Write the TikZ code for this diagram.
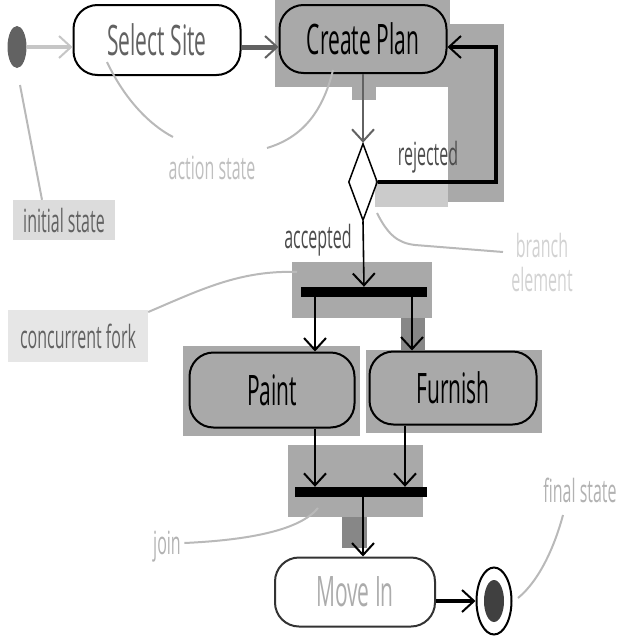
\documentclass[tikz,border=0pt]{standalone}
\usepackage{fontspec}
\setmainfont{Open Sans}[FakeStretch=0.5]
\usetikzlibrary{shapes.geometric,arrows.meta}
\definecolor{hl}{HTML}{A9A9A9}
\definecolor{hllight}{HTML}{DCDCDC}
\definecolor{ink}{HTML}{626262}
\begin{document}
\begin{tikzpicture}[x = 1pt, y = -1pt,
    act/.style = {draw, line width = 2pt, rounded corners = 24pt, inner sep = 0pt,
        font = \fontsize{42}{48}\selectfont},
    bar/.style = {fill = black, minimum height = 10pt, inner sep = 0pt},
    flow/.style = {line width = 1.6pt, -{Straight Barb[length = 12pt, width = 22pt, line width = 2pt]}},
    note/.style = {font = \fontsize{32}{34}\selectfont},
    lead/.style = {draw = gray!55, line width = 2pt}]
    \useasboundingbox (0,0) rectangle (640,640);
    % highlight patches
    \fill[hl] (275,0) rectangle (450,87);
    \fill[hl] (352,87) rectangle (376,100);
    \fill[hl] (448,24) rectangle (504,202);
    \fill[hl!60] (375,180) rectangle (448,207);
    \fill[hl] (292,262) rectangle (432,318);
    \fill[hl!80!black] (401,318) rectangle (425,352);
    \fill[hl] (183,346) rectangle (360,436);
    \fill[hl] (366,350) rectangle (542,433);
    \fill[hl] (288,445) rectangle (423,517);
    \fill[hl!80!black] (342,517) rectangle (367,548);
    % states
    \node[ellipse, fill = ink, minimum width = 19pt, minimum height = 42pt, inner sep = 0pt] (I) at (17,47) {};
    \node[act, minimum width = 167pt, minimum height = 70pt, text = ink] (S) at (157,40) {Select Site};
    \node[act, fill = hl, minimum width = 167pt, minimum height = 68pt] (C) at (363,39) {Create Plan};
    \node[diamond, draw, line width = 1.5pt, minimum width = 29pt, minimum height = 77pt, inner sep = 0pt] (B) at (363,182) {};
    \node[bar, minimum width = 126pt] (F) at (364,292) {};
    \node[act, fill = hl, minimum width = 165pt, minimum height = 75pt] (P) at (272,390) {Paint};
    \node[act, fill = hl, minimum width = 167pt, minimum height = 73pt] (U) at (453,388) {Furnish};
    \node[bar, minimum width = 132pt] (J) at (361,492) {};
    \node[act, draw = black!80, minimum width = 160pt, minimum height = 69pt, text = gray!65] (M) at (355,592) {Move In};
    \node[ellipse, draw, line width = 2pt, minimum width = 35pt, minimum height = 67pt, inner sep = 0pt] (E) at (494,601) {};
    \node[ellipse, fill = black!75, minimum width = 20pt, minimum height = 42pt, inner sep = 0pt] (EI) at (494,601) {};
    \coordinate (R) at (496,0);
    % transitions
    \draw[flow, draw = gray!45, line width = 4pt] (I.east) -- (S.west |- I);
    \draw[flow, draw = ink, line width = 5pt] (S.east |- I) -- (C.west |- I);
    \draw[flow, draw = ink] (C.south) -- (B.north);
    \draw[flow, line width = 4pt] (B.east) -- (B.east -| R) -- (R |- I) -- (C.east |- I);
    \draw[flow] (B.south) -- (F.north);
    \draw[flow] (F.south -| 315,0) -- (P.north -| 315,0);
    \draw[flow, line width = 2.5pt] (F.south -| 412,0) -- (U.north -| 412,0);
    \draw[flow] (P.south -| 315,0) -- (J.north -| 315,0);
    \draw[flow] (U.south -| 405,0) -- (J.north -| 405,0);
    \draw[flow, line width = 2.5pt] (J.south -| 363,0) -- (M.north -| 363,0);
    \draw[flow, line width = 4pt] (M.east |- E) -- (E.west);
    % guard labels
    \node[note, text = black!70] (RJ) at (428,157) {rejected};
    \node[note, text = black!70] (AC) at (318,240) {accepted};
    % annotations
    \node[note, fill = hllight, text = ink, minimum width = 102pt, minimum height = 40pt] (NI) at (64,220) {initial state};
    \node[note, text = gray!50] (NA) at (212,168) {action state};
    \node[note, text = gray!35, align = center] (NB) at (542,262) {branch\\element};
    \node[note, fill = hllight!70, text = ink, minimum width = 140pt, minimum height = 52pt] (NF) at (78,336) {concurrent fork};
    \node[note, text = gray!60] (NJ) at (167,547) {join};
    \node[note, text = gray!60] (NE) at (580,490) {final state};
    \draw[lead] (20,85) -- (NI.north -| 42,0);
    \draw[lead] (107,62) .. controls (125,100) and (150,125) .. (173,137);
    \draw[lead] (333,70) .. controls (322,115) and (300,138) .. (267,148);
    \draw[lead] (377,213) .. controls (388,235) and (398,243) .. (415,245) -- (503,252);
    \draw[lead] (NF.east |- 0,312) .. controls (200,290) and (240,270) .. (297,272);
    \draw[lead] (NJ.east |- 0,543) .. controls (250,540) and (300,530) .. (318,508);
    \draw[lead] (518,598) .. controls (540,580) and (555,545) .. (563,515);
\end{tikzpicture}
\end{document}
